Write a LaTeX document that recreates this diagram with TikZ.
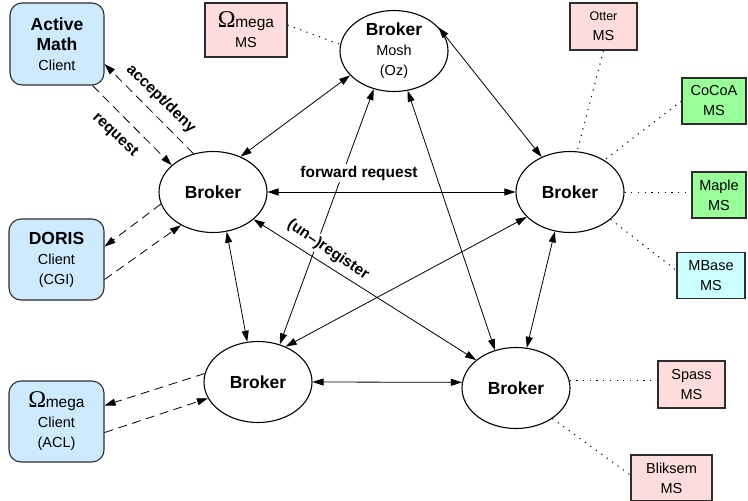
\documentclass[tikz,border=0pt]{standalone}
\usepackage{fontspec}
\setmainfont{Liberation Sans}
\newfontfamily\omegafont{Liberation Serif}
\usetikzlibrary{arrows.meta,shapes.geometric}
\definecolor{clientblue}{RGB}{206,234,255}
\definecolor{mspink}{RGB}{255,221,221}
\definecolor{msgreen}{RGB}{153,255,153}
\definecolor{mscyan}{RGB}{204,255,255}
\definecolor{boxline}{RGB}{45,45,45}
\newcommand\bigbold[1]{{\bfseries\fontsize{17.5}{20}\selectfont #1}}
\newcommand\omegaword{{\omegafont\fontsize{24}{20}\selectfont Ω}\kern-0.5pt{\fontsize{15.5}{20}\selectfont mega}}
\begin{document}
\begin{tikzpicture}[x=1pt,y=-1pt,
  broker/.style={ellipse,draw,line width=1.1pt,minimum width=108pt,minimum height=81pt,inner sep=0pt,align=center,font=\fontsize{14.5}{20}\selectfont},
  client/.style={draw=boxline,line width=1.1pt,fill=clientblue,rounded corners=12pt,minimum width=95pt,minimum height=81pt,inner sep=0pt,align=center,font=\fontsize{14.5}{20}\selectfont},
  msbox/.style={draw=boxline,line width=1.1pt,minimum height=46pt,inner sep=0pt,align=center,font=\fontsize{14.5}{20}\selectfont},
  link/.style={{Triangle[length=11pt,width=7pt]}-{Triangle[length=11pt,width=7pt]},line width=0.8pt},
  dashlink/.style={-{Triangle[length=11pt,width=7pt]},line width=0.8pt,dash pattern=on 9pt off 5.5pt},
  dotlink/.style={line width=1pt,dash pattern=on 1.2pt off 5.5pt},
  lbl/.style={font=\bfseries\fontsize{15.5}{18}\selectfont,inner sep=2pt},
]
\useasboundingbox (0,0) rectangle (748,501);

% brokers
\node[broker] (T) at (394,51) {\bigbold{Broker}\\Mosh\\(Oz)};
\node[broker] (L) at (213,192) {\bigbold{Broker}};
\node[broker] (R) at (570,192) {\bigbold{Broker}};
\node[broker] (BL) at (258,382) {\bigbold{Broker}};
\node[broker] (BR) at (516,388) {\bigbold{Broker}};

% clients
\node[client,minimum width=94pt,minimum height=82pt] (AM) at (57,44) {\bigbold{Active}\\\bigbold{Math}\\Client};
\node[client] (DO) at (56.5,259.5) {\bigbold{DORIS}\\Client\\(CGI)};
\node[client] (OC) at (56.5,421.5) {\omegaword\\Client\\(ACL)};

% mathematical services
\node[msbox,fill=mspink,minimum width=82pt,minimum height=54pt] (OM) at (246,30) {\omegaword\\MS};
\node[msbox,fill=mspink,minimum width=67pt,minimum height=47pt] (OT) at (603.5,26.5) {{\fontsize{12.5}{20}\selectfont Otter}\\MS};
\node[msbox,fill=msgreen,minimum width=64pt] (CO) at (714,101) {CoCoA\\MS};
\node[msbox,fill=msgreen,minimum width=54pt] (MA) at (719,195) {Maple\\MS};
\node[msbox,fill=mscyan,minimum width=68pt] (MB) at (711,275.5) {MBase\\MS};
\node[msbox,fill=mspink,minimum width=67pt,minimum height=47pt] (SP) at (691.5,384.5) {Spass\\MS};
\node[msbox,fill=mspink,minimum width=81pt] (BK) at (671.5,478) {Bliksem\\MS};

% broker links
\draw[link] (T.209) -- (L.52);
\draw[link] (T.28) -- (R.129);
\draw[link] (T.242) -- (BL.60);
\draw[link] (T.-71) -- (BR.119);
\draw[link] (L.east) -- (R.west);
\draw[link] (L.-71) -- (BL.105);
\draw[link] (L.-34) -- (BR.145);
\draw[link] (R.210) -- (BL.52);
\draw[link] (R.249) -- (BR.75);
\draw[link] (BL.east) -- (BR.174);

% client links
\draw[dashlink] ([xshift=-12pt]AM.south east) -- (L.147);
\draw[dashlink] (L.117) -- ([yshift=-20pt]AM.east);
\draw[dashlink] (L.193) -- ([yshift=13pt]DO.east);
\draw[dashlink] ([yshift=-20pt]DO.east) -- (L.226);
\draw[dashlink] (BL.171) -- ([yshift=16pt]OC.east);
\draw[dashlink] ([yshift=-11pt]OC.east) -- (BL.198);

% service links
\draw[dotlink] ([yshift=5pt]OM.east) -- (T.173);
\draw[dotlink] (OT.south) -- (R.80);
\draw[dotlink] (CO.west) -- (R.43);
\draw[dotlink] (R.east) -- (R.east -| MA.west);
\draw[dotlink] (R.-34) -- ([yshift=5pt]MB.west);
\draw[dotlink] (BR.8) -- (BR.8 -| SP.west);
\draw[dotlink] (BR.-40) -- ([yshift=3pt]BK.west);

% labels
\node[lbl,rotate=-44] (lad) at (161,99) {accept/deny};
\node[lbl,rotate=-43] (lrq) at (115,135) {request};
\node[lbl,fill=white] (lfr) at (359,173) {forward request};
\node[lbl,fill=white,rotate=-34] (lur) at (328,250) {(un–)register};
\end{tikzpicture}
\end{document}
